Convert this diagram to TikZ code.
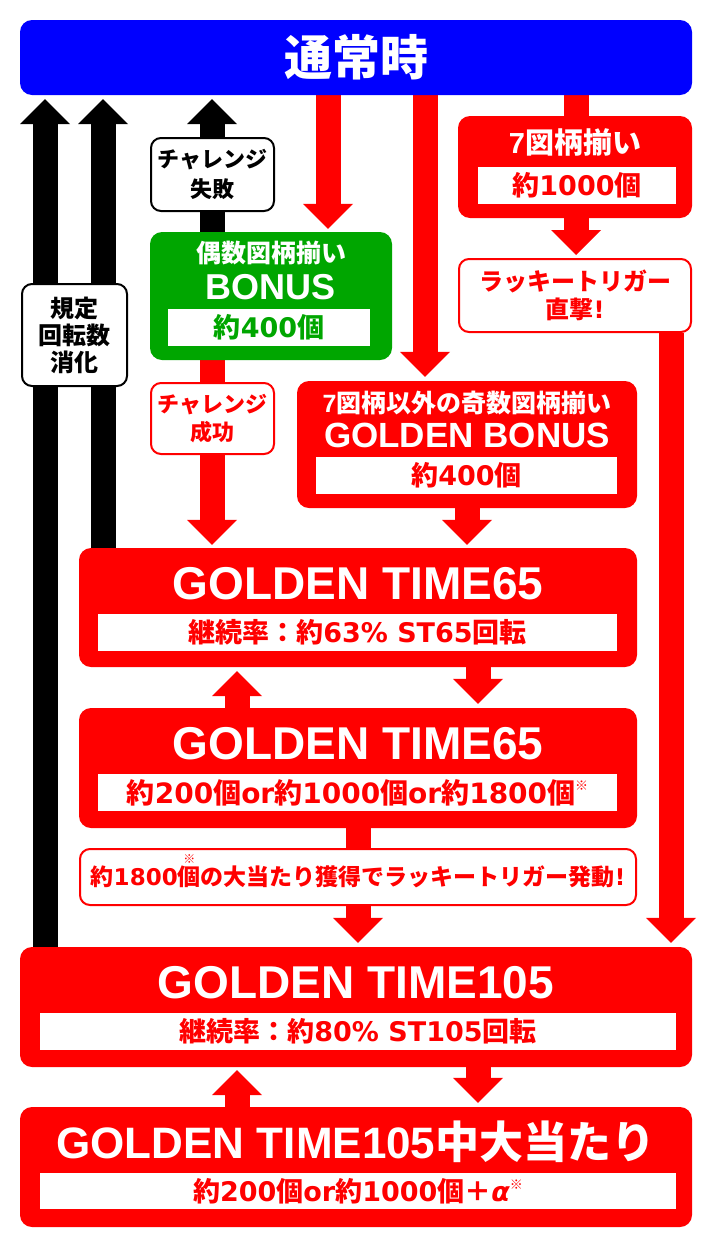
\documentclass[tikz,border=0pt]{standalone}
\usepackage{fontspec}
\setmainfont{Liberation Sans}
\newfontfamily\jpfont{Noto Sans CJK JP}
\newfontfamily\subfont{DejaVu Sans}
\newcommand\jp[1]{{\jpfont #1}}
\newcommand\kome{\raisebox{0.45em}{\jpfont\fontsize{13}{13}\selectfont ※}}
\usetikzlibrary{arrows.meta,backgrounds}
\definecolor{nblue}{RGB}{0,0,255}
\definecolor{nred}{RGB}{255,0,0}
\definecolor{ngreen}{RGB}{0,166,0}
\begin{document}
\begin{tikzpicture}[x=1pt,y=-1pt]
		\tikzstyle{every node}+=[inner sep=0pt,font=\bfseries]
		\tikzstyle{box}=[rectangle,rounded corners=12pt]
		\tikzstyle{bluebox}=[box,fill=nblue]
		\tikzstyle{redbox}=[box,fill=nred]
		\tikzstyle{greenbox}=[box,fill=ngreen]
		\tikzstyle{tagbox}=[box,rounded corners=10pt,fill=white,draw=black,line width=2pt,align=center]
		\tikzstyle{inbox}=[rectangle,fill=white,minimum height=37pt]
		\tikzstyle{titletext}=[text=white,font=\bfseries\fontsize{46}{46}\selectfont]
		\tikzstyle{subtext}=[font=\bfseries\subfont\fontsize{27}{27}\selectfont]
		\tikzstyle{blockarrow}=[line width=25pt,-{Triangle[width=50pt,length=25pt,line width=0pt]},shorten >=4pt]
		\useasboundingbox (0,0) rectangle (712,1248);
		\node [bluebox,minimum width=672pt,minimum height=75pt,text=white,font=\bfseries\jpfont\fontsize{48}{48}\selectfont] (normal) at (356,57.5) {通常時};
		\node [redbox,minimum width=234pt,minimum height=102pt] (seven) at (575,167) {};
		\node [titletext,font=\bfseries\fontsize{29}{29}\selectfont] at (575,142) {7\jp{図柄揃い}};
		\node [inbox,minimum width=198pt,subtext,text=nred] at (577,185.5) {\jp{約}1000\jp{個}};
		\node [tagbox,draw=nred,text=nred,minimum width=232pt,minimum height=73pt,font=\bfseries\subfont\fontsize{24}{28}\selectfont] (lucky) at (575,295.5) {\jp{ラッキートリガー}\\\jp{直撃}!};
		\node [tagbox,minimum width=105pt,minimum height=102pt,font=\bfseries\jpfont\fontsize{24}{27}\selectfont] (kitei) at (74.5,335) {規定\\回転数\\消化};
		\node [tagbox,minimum width=123pt,minimum height=73pt,font=\bfseries\jpfont\fontsize{22}{30}\selectfont] (fail) at (212.5,174.5) {チャレンジ\\失敗};
		\node [greenbox,minimum width=242pt,minimum height=128pt] (even) at (271,296) {};
		\node [titletext,font=\bfseries\jpfont\fontsize{25}{25}\selectfont] at (271,253) {偶数図柄揃い};
		\node [titletext,font=\bfseries\fontsize{36}{36}\selectfont] at (271,287.5) {BONUS};
		\node [inbox,minimum width=202pt,subtext,text=ngreen] at (269,327.5) {\jp{約}400\jp{個}};
		\node [tagbox,draw=nred,text=nred,minimum width=123pt,minimum height=71pt,font=\bfseries\jpfont\fontsize{22}{28}\selectfont] (success) at (212.5,418.5) {チャレンジ\\成功};
		\node [redbox,minimum width=340pt,minimum height=127pt] (gbonus) at (467,444.5) {};
		\node [titletext,font=\bfseries\fontsize{25}{25}\selectfont] at (467,403) {7\jp{図柄以外の奇数図柄揃い}};
		\node [titletext,font=\bfseries\fontsize{35}{35}\selectfont] at (467,435) {GOLDEN BONUS};
		\node [inbox,minimum width=301pt,subtext,text=nred] at (466.5,475.5) {\jp{約}400\jp{個}};
		\node [redbox,minimum width=558pt,minimum height=119pt] (gta) at (358,607.5) {};
		\node [titletext] at (358,583.5) {GOLDEN TIME65};
		\node [inbox,minimum width=519pt,subtext,text=nred] at (357.5,632.5) {\jp{継続率：約}63\% ST65\jp{回転}};
		\node [redbox,minimum width=558pt,minimum height=120pt] (gtb) at (358,768) {};
		\node [titletext] at (358,743.5) {GOLDEN TIME65};
		\node [inbox,minimum width=519pt,subtext,font=\bfseries\subfont\fontsize{28}{28}\selectfont,text=nred] at (357.5,792.5) {\jp{約}200\jp{個}or\jp{約}1000\jp{個}or\jp{約}1800\jp{個}\kome};
		\node [tagbox,draw=nred,text=nred,minimum width=556pt,minimum height=56pt,font=\bfseries\subfont\fontsize{23}{23}\selectfont] (note) at (358,877) {\jp{約}1800\jp{\ooalign{個\cr\hidewidth\raisebox{0.95em}{\fontsize{12}{12}\selectfont ※}\hidewidth\cr}の大当たり獲得でラッキートリガー発動}!};
		\node [redbox,minimum width=672pt,minimum height=120pt] (gtc) at (356,1007) {};
		\node [titletext] at (356,982.5) {GOLDEN TIME105};
		\node [inbox,minimum width=636pt,subtext,text=nred] at (358,1031.5) {\jp{継続率：約}80\% ST105\jp{回転}};
		\node [redbox,minimum width=672pt,minimum height=120pt] (hit) at (356,1167) {};
		\node [titletext,font=\bfseries\fontsize{44}{44}\selectfont] at (356,1142) {GOLDEN TIME105\jp{中大当たり}};
		\node [inbox,minimum width=636pt,minimum height=36pt,subtext,text=nred] at (358,1191) {\jp{約}200\jp{個}or\jp{約}1000\jp{個＋}{\itshape α}\kome};
		\coordinate (laneA) at (45,0);
		\coordinate (laneB) at (103,0);
		\coordinate (laneC) at (212,0);
		\coordinate (laneD) at (328,0);
		\coordinate (laneE) at (425,0);
		\coordinate (laneF) at (576,0);
		\coordinate (laneG) at (671,0);
		\coordinate (laneH) at (467,0);
		\coordinate (laneI) at (237,0);
		\coordinate (laneJ) at (478,0);
		\coordinate (laneK) at (358,0);
		\begin{scope}[on background layer]
		\fill [white] (0,0) rectangle (712,1248);
		\draw [blockarrow,black] (gtc.north -| laneA) -- (normal.south -| laneA);
		\draw [blockarrow,black] (gta.north -| laneB) -- (normal.south -| laneB);
		\draw [blockarrow,black] (even.north -| laneC) -- (normal.south -| laneC);
		\draw [blockarrow,nred,shorten >=3pt] (normal.south -| laneD) -- (even.north -| laneD);
		\draw [blockarrow,nred] (normal.south -| laneE) -- (gbonus.north -| laneE);
		\draw [blockarrow,nred,shorten >=3pt] (normal.south -| laneF) -- (lucky.north -| laneF);
		\draw [blockarrow,nred] (lucky.south -| laneG) -- (gtc.north -| laneG);
		\draw [blockarrow,nred,shorten >=3pt] (even.south -| laneC) -- (gta.north -| laneC);
		\draw [blockarrow,nred,shorten >=3pt] (gbonus.south -| laneH) -- (gta.north -| laneH);
		\draw [blockarrow,nred] (gtb.north -| laneI) -- (gta.south -| laneI);
		\draw [blockarrow,nred] (gta.south -| laneJ) -- (gtb.north -| laneJ);
		\draw [blockarrow,nred] (gtb.south -| laneK) -- (gtc.north -| laneK);
		\draw [blockarrow,nred,shorten >=3pt] (hit.north -| laneI) -- (gtc.south -| laneI);
		\draw [blockarrow,nred] (gtc.south -| laneJ) -- (hit.north -| laneJ);
		\end{scope}
	\end{tikzpicture}
\end{document}
